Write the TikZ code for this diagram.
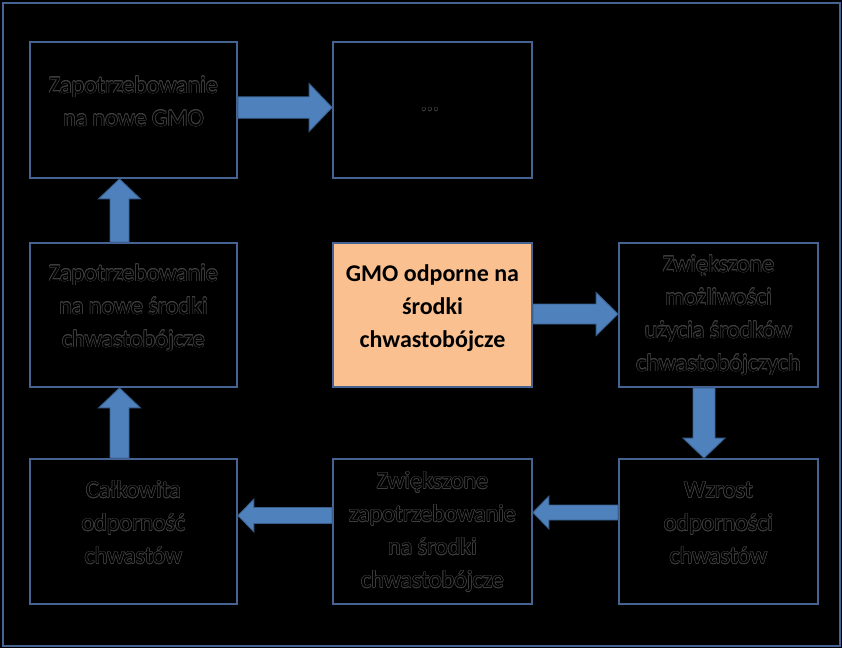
\documentclass[tikz,border=0pt]{standalone}
\usepackage{fontspec}
\setmainfont{Carlito}
\usepackage{contour}
\usetikzlibrary{calc}
\definecolor{framec}{RGB}{70,100,145}
\definecolor{arrfill}{RGB}{79,129,189}
\definecolor{arrline}{RGB}{56,93,138}
\definecolor{orangefill}{RGB}{250,192,144}
\definecolor{outc}{RGB}{62,62,62}
\contourlength{0.55pt}
\contournumber{16}
\newcommand\otxt[1]{\strut\contour{outc}{#1}}
% right-pointing block arrow: start, end, dy, shaft half, head half, head length
\newcommand\rarrow[6]{\draw[arr] ($(#1)+(0,#3-#4)$) -- ($(#2)+(-#6,#3-#4)$) -- ($(#2)+(-#6,#3-#5)$) -- ($(#2)+(0,#3)$) -- ($(#2)+(-#6,#3+#5)$) -- ($(#2)+(-#6,#3+#4)$) -- ($(#1)+(0,#3+#4)$) -- cycle;}
\newcommand\larrow[6]{\draw[arr] ($(#1)+(0,#3-#4)$) -- ($(#2)+(#6,#3-#4)$) -- ($(#2)+(#6,#3-#5)$) -- ($(#2)+(0,#3)$) -- ($(#2)+(#6,#3+#5)$) -- ($(#2)+(#6,#3+#4)$) -- ($(#1)+(0,#3+#4)$) -- cycle;}
\newcommand\uarrow[6]{\draw[arr] ($(#1)+(#3-#4,0)$) -- ($(#2)+(#3-#4,#6)$) -- ($(#2)+(#3-#5,#6)$) -- ($(#2)+(#3,0)$) -- ($(#2)+(#3+#5,#6)$) -- ($(#2)+(#3+#4,#6)$) -- ($(#1)+(#3+#4,0)$) -- cycle;}
\newcommand\darrow[6]{\draw[arr] ($(#1)+(#3-#4,0)$) -- ($(#2)+(#3-#4,-#6)$) -- ($(#2)+(#3-#5,-#6)$) -- ($(#2)+(#3,0)$) -- ($(#2)+(#3+#5,-#6)$) -- ($(#2)+(#3+#4,-#6)$) -- ($(#1)+(#3+#4,0)$) -- cycle;}
\begin{document}
\begin{tikzpicture}[x=1pt,y=-1pt,
  box/.style={draw=framec, line width=1.8pt, fill=black, inner sep=0pt},
  wbox/.style={box, minimum width=207pt},
  nbox/.style={box, minimum width=199pt},
  arr/.style={fill=arrfill, draw=arrline, line width=0.9pt, line join=miter},
  txt/.style={font=\fontsize{24}{33}\selectfont, align=center, text=black, inner sep=0pt}]
\fill[black] (0,0) rectangle (842,648);
\useasboundingbox (0,0) rectangle (842,648);
\draw[framec, line width=2pt] (2.5,2.5) rectangle (839.5,645.5);

% boxes
\node[wbox, minimum height=136pt] (A) at (133.5,110) {};
\node[nbox, minimum height=136pt] (B) at (432.5,110) {};
\node[wbox, minimum height=144pt] (L2) at (133.5,315) {};
\node[nbox, minimum height=144pt, fill=orangefill] (C) at (432.5,315) {};
\node[nbox, minimum height=144pt] (R2) at (718.5,315) {};
\node[wbox, minimum height=145pt] (L3) at (133.5,531.5) {};
\node[nbox, minimum height=145pt] (M3) at (432.5,531.5) {};
\node[nbox, minimum height=145pt] (R3) at (718.5,531.5) {};

% texts
\node[txt] (tA) at (133.5,103) {\otxt{Zapotrzebowanie}\\\otxt{na nowe GMO}};
\node[txt] (tB) at (430,104) {\otxt{...}};
\node[txt] (tL2) at (133.5,307.5) {\otxt{Zapotrzebowanie}\\\otxt{na nowe środki}\\\otxt{chwastobójcze}};
\node[txt, font=\fontsize{24}{33}\selectfont\bfseries] (tC) at (432.5,307.5) {\strut GMO odporne na\\\strut środki\\\strut chwastobójcze};
\node[txt] (tR2) at (718.5,315) {\otxt{Zwiększone}\\\otxt{możliwości}\\\otxt{użycia środków}\\\otxt{chwastobójczych}};
\node[txt] (tL3) at (133.5,524) {\otxt{Całkowita}\\\otxt{odporność}\\\otxt{chwastów}};
\node[txt] (tM3) at (432.5,531.5) {\otxt{Zwiększone}\\\otxt{zapotrzebowanie}\\\otxt{na środki}\\\otxt{chwastobójcze}};
\node[txt] (tR3) at (718.5,524) {\otxt{Wzrost}\\\otxt{odporności}\\\otxt{chwastów}};

% arrows
\rarrow{A.east}{B.west}{-2.5}{10.75}{24}{23}
\rarrow{C.east}{R2.west}{-1}{10}{21.5}{22}
\uarrow{L2.north}{A.south}{-14}{9.5}{21}{20}
\uarrow{L3.north}{L2.south}{-14}{9.5}{21}{20}
\darrow{R2.south}{R3.north}{-14.5}{11}{21}{20}
\larrow{R3.west}{M3.east}{-19}{7.5}{16.5}{16}
\larrow{M3.west}{L3.east}{-16}{8}{16.5}{16}
\end{tikzpicture}
\end{document}
